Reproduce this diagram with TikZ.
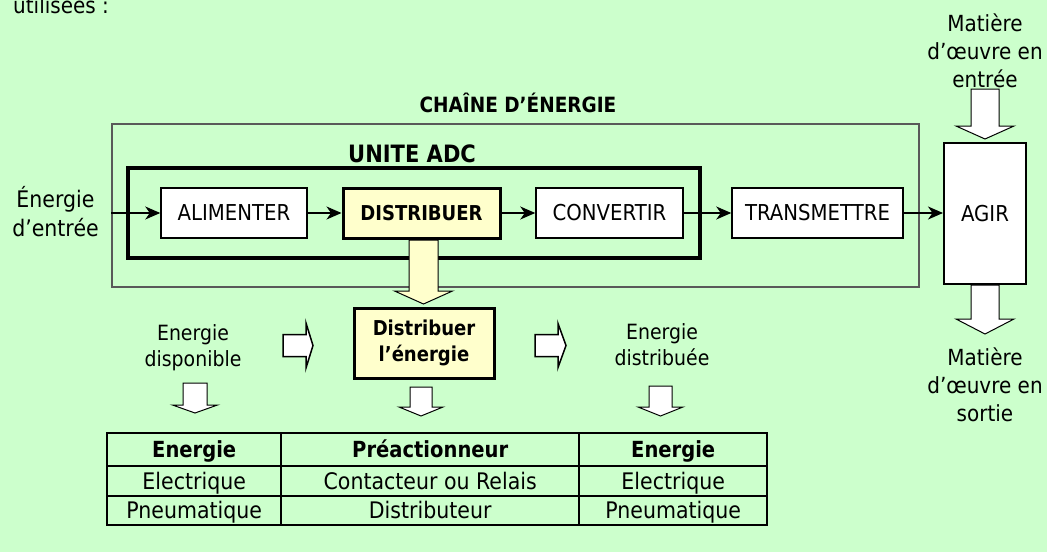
\documentclass[tikz,border=0pt]{standalone}
\usepackage{fontspec}
\setmainfont{DejaVu Sans}[UprightFeatures={FakeStretch=0.9},BoldFeatures={FakeStretch=0.88}]
\usetikzlibrary{arrows.meta,matrix}
\definecolor{fond}{RGB}{204,255,204}
\definecolor{jaune}{RGB}{255,255,204}

\begin{document}
\begin{tikzpicture}[x=1pt,y=-1pt,
  txt/.style={inner sep=0pt,align=center,font=\fontsize{22.2}{28}\selectfont},
  titre/.style={inner sep=0pt,font=\fontsize{21}{24}\selectfont\bfseries},
  fonction/.style={draw,line width=1.5pt,fill=white,minimum height=50pt,inner sep=0pt,font=\fontsize{21.9}{26}\selectfont},
  cle/.style={line width=3pt,fill=jaune,font=\fontsize{20.5}{24}\selectfont\bfseries},
  flux/.style={line width=1.3pt,-{Stealth[length=15pt,width=13pt,inset=4.5pt]}},
  creux/.style={fill=white,draw=black,line width=1pt},
  creux epais/.style={fill=white,draw=black,line width=1.5pt},
  pleine/.style={fill=jaune,draw=black,line width=1pt}]
    \newcommand{\blockDown}[7]{
        \filldraw[#1] (#2-#5,#3) -- (#2+#5,#3) -- (#2+#5,#4-#7) -- (#2+#6,#4-#7) -- (#2,#4) -- (#2-#6,#4-#7) -- (#2-#5,#4-#7) -- cycle;
    }
    \newcommand{\blockRight}[7]{
        \filldraw[#1] (#3,#2-#5) -- (#4-#7,#2-#5) -- (#4-#7,#2-#6) -- (#4,#2) -- (#4-#7,#2+#6) -- (#4-#7,#2+#5) -- (#3,#2+#5) -- cycle;
    }

\fill[fond] (0,0) rectangle (1047,552);
\useasboundingbox (0,0) rectangle (1047,552);

\node[txt, anchor=base west] (intro) at (13,13) {utilisées :};

% chaine d'energie
\node[draw=black!65, line width=1.3pt, minimum width=807pt, minimum height=163pt] (chaine) at (515.5,205.5) {};
\node[titre, anchor=base] (tChaine) at (518,112) {CHAÎNE D’ÉNERGIE};
\node[draw, line width=3.5pt, minimum width=572pt, minimum height=90pt] (adc) at (414,213) {};
\node[titre, font=\fontsize{23.9}{27}\selectfont\bfseries, anchor=base west] (tAdc) at (348,162) {UNITE ADC};

\node[fonction, minimum width=146pt] (alim) at (234,213) {ALIMENTER};
\node[fonction, cle, minimum width=157pt] (dist) at (421.5,213) {DISTRIBUER};
\node[fonction, minimum width=147pt] (conv) at (609.5,213) {CONVERTIR};
\node[fonction, minimum width=171pt] (trans) at (817.5,213) {TRANSMETTRE};
\node[fonction, line width=2pt, minimum width=82pt, minimum height=141pt] (agir) at (985,213.5) {AGIR};

% anchor base = baseline of the last line
\node[txt, font=\fontsize{22.8}{29}\selectfont, anchor=base] (entree) at (55.5,236) {Énergie\\d’entrée};
\node[txt, anchor=base] (moeE) at (985,87) {Matière\\d’œuvre en\\entrée};
\node[txt, anchor=base] (moeS) at (985,421) {Matière\\d’œuvre en\\sortie};

\draw[flux] (chaine.west |- alim) -- (alim);
\draw[flux] (alim) -- (dist);
\draw[flux] (dist) -- (conv);
\draw[flux] (conv) -- (trans);
\draw[flux] (trans.east) -- (trans.east -| agir.west);

% distribuer l'energie
\node[draw, cle, minimum width=140pt, minimum height=70pt, inner sep=0pt, align=center,
  font=\fontsize{20.5}{26}\selectfont\bfseries] (distEn) at (424,343) {Distribuer\\l’énergie};
\node[txt, font=\fontsize{21}{26}\selectfont, anchor=base] (dispo) at (193,366) {Energie\\disponible};
\node[txt, font=\fontsize{21}{26}\selectfont, anchor=base] (distribuee) at (662,365) {Energie\\distribuée};

\blockDown{pleine}{423.5}{240}{304}{14.5}{29}{13}
\blockDown{creux}{985}{89}{139}{14}{29}{13}
\blockDown{creux}{985}{285}{334}{14}{29}{15}
\blockDown{creux}{195}{383}{413}{12}{22.5}{8}
\blockDown{creux}{421}{387}{416}{11}{22}{9}
\blockDown{creux}{660.5}{386}{416}{11.5}{22.5}{9}
\blockRight{creux epais}{345.5}{283}{313}{11}{22.5}{7}
\blockRight{creux epais}{345.5}{535}{566}{11}{22}{8}

% tableau
\matrix (tab) [matrix of nodes, anchor=north west, inner sep=0pt, column sep=-2pt, row sep=-2pt,
  nodes={draw, line width=2pt, inner sep=0pt, text height=16pt, text depth=0pt, anchor=center,
    font=\fontsize{22.8}{26}\selectfont},
  column 1/.style={nodes={minimum width=174pt}},
  column 2/.style={nodes={minimum width=298pt}},
  column 3/.style={nodes={minimum width=188pt}},
  row 1/.style={nodes={minimum height=33pt, font=\fontsize{22.2}{26}\selectfont\bfseries}},
  row 2/.style={nodes={minimum height=30pt}},
  row 3/.style={nodes={minimum height=29pt}}] at (106,432)
  {
    Energie & Préactionneur & Energie\\
    Electrique & Contacteur ou Relais & Electrique\\
    Pneumatique & Distributeur & Pneumatique\\
  };

\end{tikzpicture}
\end{document}
